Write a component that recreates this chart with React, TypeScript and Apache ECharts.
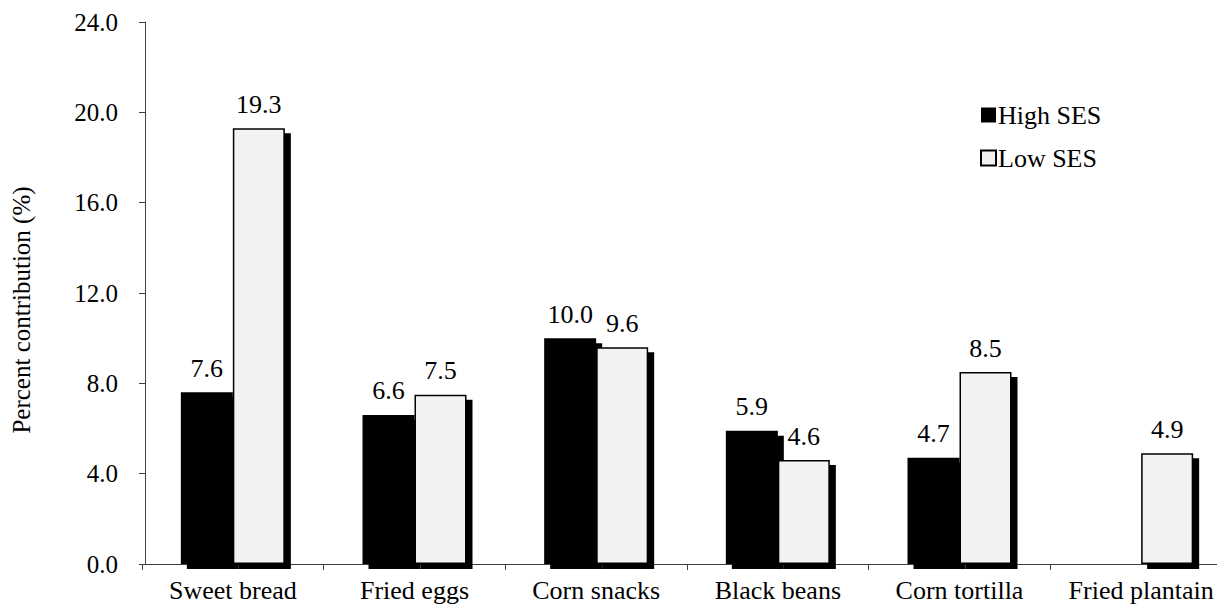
import React, { useEffect, useRef } from "react";
import * as echarts from "echarts";

const categories = ["Sweet bread", "Fried eggs", "Corn snacks", "Black beans", "Corn tortilla", "Fried plantain"];
const highSES: (number | null)[] = [7.6, 6.6, 10.0, 5.9, 4.7, null];
const lowSES: number[] = [19.3, 7.5, 9.6, 4.6, 8.5, 4.9];
const seriesNames = ["High SES", "Low SES"];

const FONT = "Liberation Serif, Times New Roman, serif";

export default function App() {
  const ref = useRef<HTMLDivElement>(null);
  useEffect(() => {
    if (!ref.current) return;
    const chart = echarts.init(ref.current, undefined, { renderer: "svg" });
    const labelStyle = {
      show: true,
      position: "top" as const,
      distance: 11,
      color: "#000",
      fontFamily: FONT,
      fontSize: 26,
      formatter: (p: any) => (p.value == null ? "" : Number(p.value).toFixed(1)),
    };
    const shadow = {
      shadowColor: "#000",
      shadowBlur: 0,
      shadowOffsetX: 6,
      shadowOffsetY: 5,
    };
    chart.setOption({
      animation: false,
      backgroundColor: "#fff",
      textStyle: { fontFamily: FONT },
      legend: {
        orient: "vertical",
        left: 975,
        top: 97,
        itemWidth: 15,
        itemHeight: 15,
        itemGap: 17,
        textStyle: { fontFamily: FONT, fontSize: 26, color: "#000", padding: [0, 0, 0, -3] },
        data: [
          { name: seriesNames[0], icon: "rect", itemStyle: { color: "#000", borderWidth: 0, shadowBlur: 0, shadowOffsetX: 0, shadowOffsetY: 0 } },
          { name: seriesNames[1], icon: "rect", itemStyle: { color: "#f2f2f2", borderColor: "#000", borderWidth: 2, shadowBlur: 0, shadowOffsetX: 0, shadowOffsetY: 0 } },
        ],
      },
      grid: { left: 142, top: 22, width: 1090, height: 542, outerBoundsMode: "none", containLabel: false },
      xAxis: {
        type: "category",
        data: categories,
        axisLine: { lineStyle: { color: "#404040", width: 1 } },
        axisTick: { show: true, length: 6, lineStyle: { color: "#404040" } },
        axisLabel: { color: "#000", fontFamily: FONT, fontSize: 26, margin: 13, interval: 0 },
      },
      yAxis: {
        type: "value",
        min: 0,
        max: 24,
        interval: 4,
        offset: -3,
        name: "Percent contribution (%)",
        nameLocation: "middle",
        nameGap: 111,
        nameTextStyle: { color: "#000", fontFamily: FONT, fontSize: 25, padding: [0, 34, 0, 0] },
        axisLine: { show: true, lineStyle: { color: "#404040", width: 1 } },
        axisTick: { show: true, length: 6, lineStyle: { color: "#404040" } },
        splitLine: { show: false },
        axisLabel: {
          color: "#000",
          fontFamily: FONT,
          fontSize: 25,
          margin: 27,
          formatter: (v: number) => v.toFixed(1),
        },
      },
      series: [
        {
          name: seriesNames[0],
          type: "bar",
          data: highSES,
          barWidth: 52,
          barGap: "0%",
          itemStyle: { color: "#000", ...shadow },
          label: labelStyle,
        },
        {
          name: seriesNames[1],
          type: "bar",
          data: lowSES,
          barWidth: 52,
          barGap: "0%",
          itemStyle: { color: "#f2f2f2", borderColor: "#000", borderWidth: 1.5, ...shadow },
          label: labelStyle,
        },
      ],
    });
    return () => chart.dispose();
  }, []);
  return (
    <div
      ref={ref}
      style={{ position: "fixed", left: 0, top: 0, width: 1217, height: 615, background: "#fff" }}
    />
  );
}
